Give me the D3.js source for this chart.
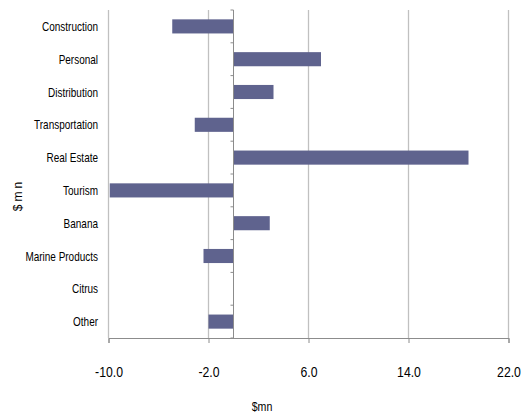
<!DOCTYPE html>
<html>
<head>
<meta charset="utf-8">
<script src="https://cdn.jsdelivr.net/npm/d3@7"></script>
<style>
  html, body { margin: 0; padding: 0; background: #fff; }
  svg text { font-family: "Liberation Sans", Arial, sans-serif; fill: #000; }
</style>
</head>
<body>
<svg id="chart" width="530" height="414"></svg>
<script>
// Sector values in $mn
const categories = ["Construction", "Personal", "Distribution", "Transportation", "Real Estate",
                    "Tourism", "Banana", "Marine Products", "Citrus", "Other"];
const values = [-4.9, 7.0, 3.2, -3.1, 18.8, -9.9, 2.9, -2.4, 0.0, -2.0];
const xTicks = [-10, -2, 6, 14, 22];

const svg = d3.select("#chart");
const margin = { top: 10, left: 108.5, right: 21.5, bottom: 76 };
const W = 530, H = 414;
const LABEL_SQUEEZE = 0.75; // condensed look for category labels
const TICK_SQUEEZE = 0.85;

const x = d3.scaleLinear().domain([-10, 22]).range([margin.left, W - margin.right]);
const y = d3.scaleBand().domain(categories).range([margin.top, H - margin.bottom]).paddingInner(0.57).paddingOuter(0.285);
const band = d3.scaleBand().domain(categories).range([margin.top, H - margin.bottom]);

// vertical gridlines
svg.append("g").selectAll("line").data(xTicks).join("line")
  .attr("x1", d => x(d)).attr("x2", d => x(d))
  .attr("y1", margin.top).attr("y2", H - margin.bottom)
  .attr("stroke", "#c0c0c0").attr("stroke-width", 1.3);

// bars
svg.append("g").selectAll("rect").data(values).join("rect")
  .attr("x", d => x(Math.min(0, d)))
  .attr("width", d => Math.abs(x(d) - x(0)))
  .attr("y", (d, i) => y(categories[i]))
  .attr("height", y.bandwidth())
  .attr("fill", "#5f638e");

// category axis at zero with tick marks between bands
const catAxis = svg.append("g");
catAxis.append("line")
  .attr("x1", x(0)).attr("x2", x(0))
  .attr("y1", margin.top).attr("y2", H - margin.bottom)
  .attr("stroke", "#8c8c8c").attr("stroke-width", 1);
const bounds = categories.map(c => band(c)).concat([H - margin.bottom]);
catAxis.selectAll("line.tk").data(bounds).join("line").attr("class", "tk")
  .attr("x1", x(0) - 3).attr("x2", x(0))
  .attr("y1", d => d).attr("y2", d => d)
  .attr("stroke", "#8c8c8c");

// category labels
svg.append("g").selectAll("text").data(categories).join("text")
  .attr("transform", d => `translate(98,${band(d) + band.bandwidth() / 2}) scale(${LABEL_SQUEEZE},1)`)
  .attr("dy", "0.35em")
  .attr("text-anchor", "end")
  .attr("font-size", 13.3)
  .text(d => d);

// value axis along the bottom
const fmt = d => d3.format(".1f")(d).replace("\u2212", "-");
const xAxis = d3.axisBottom(x).tickValues(xTicks).tickFormat(fmt).tickSizeOuter(0).tickSize(5).tickPadding(24);
const gx = svg.append("g").attr("transform", `translate(0,${H - margin.bottom})`).call(xAxis);
gx.select(".domain").attr("stroke", "#8c8c8c");
gx.selectAll(".tick line").attr("stroke", "#8c8c8c");
gx.selectAll(".tick text")
  .attr("font-size", 14.4).attr("fill", "#000")
  .attr("font-family", "'Liberation Sans', Arial, sans-serif")
  .attr("transform", function () {
    const yy = +d3.select(this).attr("y");
    return `translate(0,${yy}) scale(${TICK_SQUEEZE},1) translate(0,${-yy})`;
  });

// axis titles
svg.append("text").attr("transform", `translate(262,407) scale(${TICK_SQUEEZE},1)`).attr("dy", "0.35em")
  .attr("text-anchor", "middle").attr("font-size", 12.5).text("$mn");
svg.append("text")
  .attr("transform", `translate(18,195) rotate(-90)`)
  .attr("dy", "0.35em").attr("text-anchor", "middle").attr("font-size", 12)
  .attr("letter-spacing", 3).text("$mn");
</script>
</body>
</html>
